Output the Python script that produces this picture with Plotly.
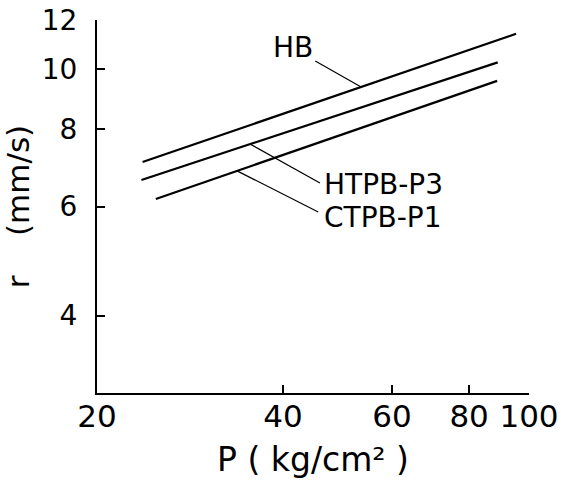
import numpy as np
import plotly.graph_objects as go

# Burning rate r (mm/s) versus pressure P (kg/cm^2), straight lines on log-log axes
series_names = ["HB", "HTPB-P3", "CTPB-P1"]
p_start = [23.7, 23.6, 24.9]
p_end = [95.3, 89.0, 88.8]
r_start = [7.08, 6.62, 6.17]
r_end = [11.4, 10.25, 9.57]

# Leader lines: pressure where each leader touches its curve, and label placement
leader_p = [53.5, 35.4, 33.7]
leader_tail_p = [45.1, 45.9, 45.6]
leader_tail_r = [10.30, 6.55, 5.88]
label_p = [41.5, 46.2, 46.2]
label_r = [10.85, 6.52, 5.77]
label_anchor = ["center", "left", "left"]

x_ticks = [20, 40, 60, 80, 100]
y_ticks = [4, 6, 8, 10, 12]

FONT = "DejaVu Sans"
NBSP = "\u00a0"


def r_at(i, p):
    """Value of series i at pressure p (power law through its end points)."""
    lp0, lp1 = np.log10(p_start[i]), np.log10(p_end[i])
    lr0, lr1 = np.log10(r_start[i]), np.log10(r_end[i])
    t = (np.log10(p) - lp0) / (lp1 - lp0)
    return 10 ** (lr0 + t * (lr1 - lr0))


fig = go.Figure()

for i, name in enumerate(series_names):
    fig.add_trace(go.Scatter(
        x=[p_start[i], p_end[i]], y=[r_start[i], r_end[i]],
        mode="lines", line=dict(color="black", width=2.2),
        name=name, showlegend=False, hoverinfo="skip",
    ))
    fig.add_trace(go.Scatter(
        x=[leader_p[i], leader_tail_p[i]],
        y=[r_at(i, leader_p[i]), leader_tail_r[i]],
        mode="lines", line=dict(color="black", width=1.2),
        showlegend=False, hoverinfo="skip",
    ))
    fig.add_annotation(
        x=np.log10(label_p[i]), y=np.log10(label_r[i]),
        xref="x", yref="y", text=name, showarrow=False,
        xanchor=label_anchor[i], yanchor="middle",
        font=dict(family=FONT, size=28, color="black"),
    )

axis_common = dict(
    type="log", showgrid=False, zeroline=False,
    showline=True, linecolor="black", linewidth=2,
    ticks="inside", ticklen=8, tickwidth=1.5, tickcolor="black",
    mirror=False,
)

fig.update_xaxes(
    **axis_common,
    range=[np.log10(20), np.log10(100)],
    tickvals=x_ticks, ticktext=[str(v) for v in x_ticks],
    tickfont=dict(family=FONT, size=31, color="black"),
    ticklabelstandoff=-5,
    title=dict(text="P ( kg/cm² )", font=dict(family=FONT, size=33, color="black"),
               standoff=15),
)
fig.update_yaxes(
    **axis_common,
    range=[np.log10(3), np.log10(12)],
    tickvals=y_ticks, ticktext=[str(v) for v in y_ticks],
    tickfont=dict(family=FONT, size=28, color="black"),
    ticklabelstandoff=12,
    title=dict(text="r" + NBSP * 4 + "(mm/s)" + NBSP * 3,
               font=dict(family=FONT, size=31, color="black"), standoff=10),
)

fig.update_layout(
    width=572, height=484,
    margin=dict(l=97, r=43, t=20, b=91, autoexpand=False),
    paper_bgcolor="white", plot_bgcolor="white",
    showlegend=False,
)

fig.write_html("out.html")
